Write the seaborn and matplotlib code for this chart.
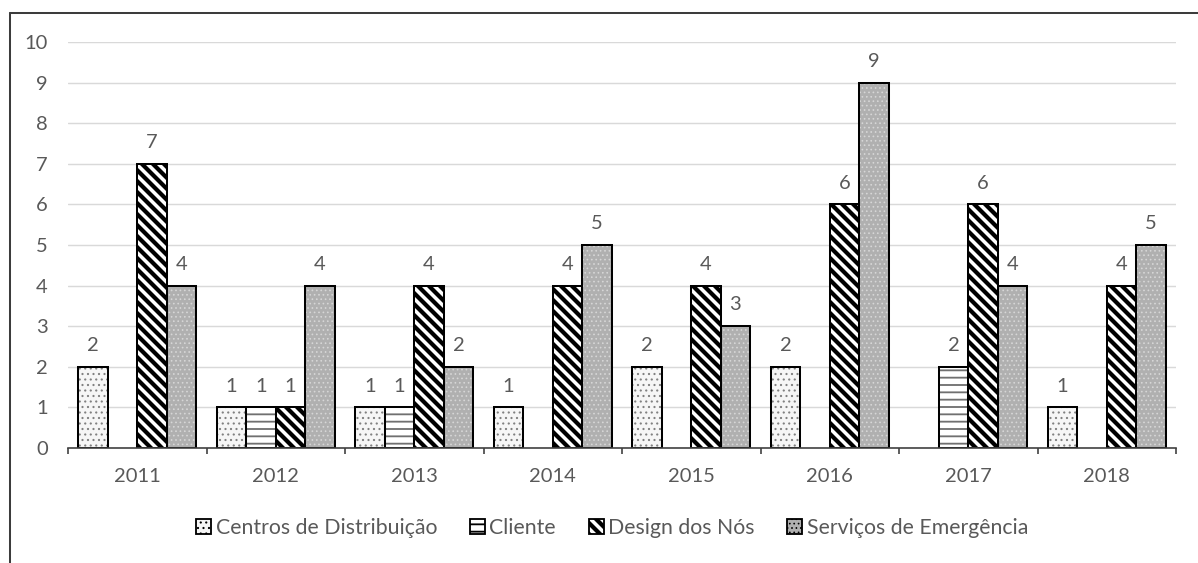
import matplotlib
matplotlib.use("Agg")
import matplotlib.pyplot as plt
from matplotlib.lines import Line2D
from matplotlib.patches import Patch
from matplotlib.ticker import FixedLocator
import seaborn as sns
import pandas as pd

# Publications per year and research topic
years = ["2011", "2012", "2013", "2014", "2015", "2016", "2017", "2018"]
categories = ["Centros de Distribuição", "Cliente", "Design dos Nós", "Serviços de Emergência"]
centros = [2, 1, 1, 1, 2, 2, 0, 1]
cliente = [0, 1, 1, 0, 0, 0, 2, 0]
design = [7, 1, 4, 4, 4, 6, 6, 4]
servicos = [4, 4, 2, 5, 3, 9, 4, 5]

series = dict(zip(categories, [centros, cliente, design, servicos]))
rows = [
    {"ano": y, "tema": cat, "valor": v}
    for cat, vals in series.items()
    for y, v in zip(years, vals)
    if v > 0  # empty combinations are left without a bar
]
df = pd.DataFrame(rows)

# Fill / hatch styling for each topic
faces = {categories[0]: "#f6f6f6", categories[1]: "#ffffff",
         categories[2]: "#ffffff", categories[3]: "#b0b0b0"}
hatches = {categories[0]: "....", categories[1]: "---",
           categories[2]: "\\\\\\\\", categories[3]: "....."}
hatch_colors = {categories[0]: "#808080", categories[1]: "#707070",
                categories[2]: "#000000", categories[3]: "#d6d6d6"}
hatch_widths = {categories[0]: 0.6, categories[1]: 1.0,
                categories[2]: 2.3, categories[3]: 0.5}

DPI = 132
TEXT = "#595959"
FS = 11
sns.set_theme(style="white")
plt.rcParams["font.family"] = ["Lato", "DejaVu Sans"]

fig = plt.figure(figsize=(1198 / DPI, 563 / DPI), dpi=DPI)
ax = fig.add_axes([68 / 1198, 1 - 448 / 563, 1108 / 1198, 406 / 563])

# Layer 1: filled, hatched bars without outline
sns.barplot(data=df, x="ano", y="valor", hue="tema", order=years,
            hue_order=categories, palette=faces, saturation=1, width=0.85,
            linewidth=0, legend=False, ax=ax, errorbar=None)
fill_containers = list(ax.containers)
for cat, cont in zip(categories, fill_containers):
    for bar in cont:
        bar.set_hatch(hatches[cat])
        bar.set_edgecolor(hatch_colors[cat])
        bar.set_linewidth(0)
        if hasattr(bar, "set_hatch_linewidth"):
            bar.set_hatch_linewidth(hatch_widths[cat])

# Layer 2: black outlines on top
sns.barplot(data=df, x="ano", y="valor", hue="tema", order=years,
            hue_order=categories, palette=["#000000"] * 4, fill=False,
            width=0.85, linewidth=1.1, legend=False, ax=ax, errorbar=None)
for cont in ax.containers[len(fill_containers):]:
    for bar in cont:
        bar.set_edgecolor("#000000")

# Value labels above every bar
for cont in fill_containers:
    ax.bar_label(cont, labels=[f"{b.get_height():.0f}" for b in cont],
                 padding=7, color=TEXT, fontsize=FS)

ax.set_ylim(0, 10)
ax.set_xlim(-0.5, len(years) - 0.5)
ax.set_yticks(range(0, 11))
ax.yaxis.grid(True, color="#d9d9d9", linewidth=0.8)
ax.set_axisbelow(True)
for side in ["top", "right", "left"]:
    ax.spines[side].set_visible(False)
ax.spines["bottom"].set_color("#404040")
ax.spines["bottom"].set_linewidth(0.9)
ax.tick_params(axis="y", length=0, pad=11, labelcolor=TEXT, labelsize=FS)
ax.tick_params(axis="x", which="major", length=0, pad=11, labelcolor=TEXT, labelsize=FS)
ax.xaxis.set_minor_locator(FixedLocator([i - 0.5 for i in range(len(years) + 1)]))
ax.tick_params(axis="x", which="minor", length=3, width=0.9, color="#404040",
               direction="out", bottom=True)
ax.set_xlabel("")
ax.set_ylabel("")

# Legend along the bottom
handles = [Patch(facecolor=faces[c], hatch=hatches[c], edgecolor="#000000",
                 linewidth=1.0) for c in categories]
leg = fig.legend(handles, categories, loc="center", bbox_to_anchor=(0.511, 0.062),
                 ncol=4, frameon=False, handlelength=0.7, handleheight=0.7,
                 handletextpad=0.2, columnspacing=1.55, fontsize=11.6,
                 labelcolor=TEXT)
for cat, h in zip(categories, leg.legend_handles):
    if hasattr(h, "set_hatch_linewidth"):
        h.set_hatch_linewidth(hatch_widths[cat])

# Chart-area border (top and left edges)
border = dict(color="#3c3c3c", linewidth=1.1, transform=fig.transFigure)
fig.add_artist(Line2D([10 / 1198, 1.01], [1 - 13 / 563, 1 - 13 / 563], **border))
fig.add_artist(Line2D([10 / 1198, 10 / 1198], [1 - 13 / 563, -0.01], **border))

fig.savefig("out.png", dpi=DPI, facecolor="white")
